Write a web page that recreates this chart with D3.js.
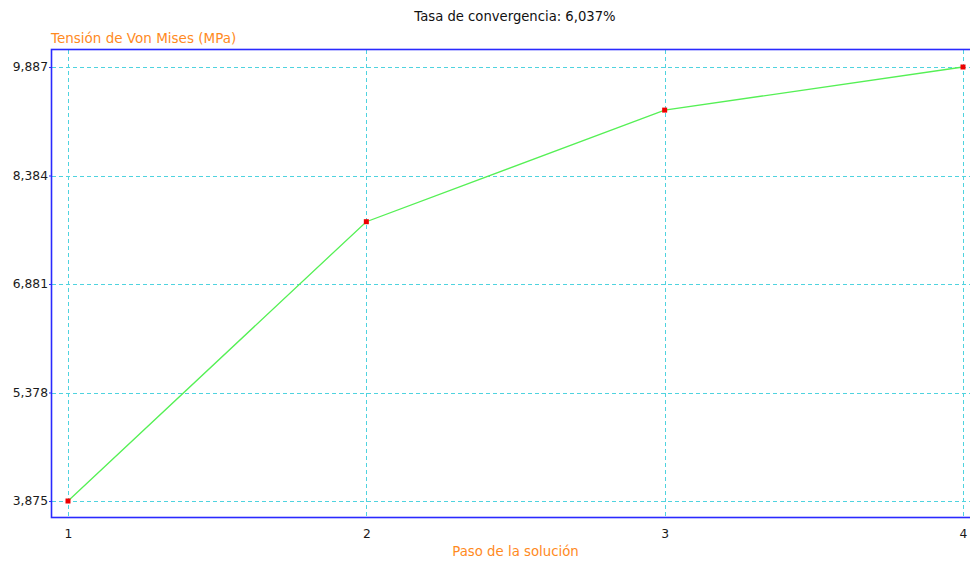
<!DOCTYPE html>
<html><head><meta charset="utf-8">
<script src="https://cdn.jsdelivr.net/npm/d3@7"></script>
<style>body{margin:0;background:#fff;overflow:hidden;} svg{display:block;} text{font-family:"DejaVu Sans",sans-serif;}</style>
</head><body>
<svg id="c" width="970" height="561"></svg>
<script>
const steps = [1, 2, 3, 4];
const stress = [3.875, 7.744, 9.290, 9.887];
const yTicks = [3.875, 5.378, 6.881, 8.384, 9.887];
const yTickLabels = ["3,875", "5,378", "6,881", "8,384", "9,887"];
const title = "Tasa de convergencia: 6,037%";
const yTitle = "Tensión de Von Mises (MPa)";
const xTitle = "Paso de la solución";

const svg = d3.select("#c");
const pLeft = 52, pTop = 50, pBottom = 518, pRight = 1000;
const x = d3.scaleLinear().domain([1, 4]).range([68, 963]);
const y = d3.scaleLinear().domain([3.875, 9.887]).range([501, 67]);

const grid = svg.append("g");
grid.selectAll("line.h").data(yTicks).join("line").attr("class", "h")
  .attr("x1", pLeft).attr("x2", 970).attr("y1", d => Math.round(y(d)) + 0.5).attr("y2", d => Math.round(y(d)) + 0.5)
  .attr("stroke", "#4fd3df").attr("stroke-width", 1).attr("stroke-dasharray", "4,3");
grid.selectAll("line.v").data(steps).join("line").attr("class", "v")
  .attr("y1", pTop).attr("y2", pBottom).attr("x1", d => Math.round(x(d)) + 0.5).attr("x2", d => Math.round(x(d)) + 0.5)
  .attr("stroke", "#4fd3df").attr("stroke-width", 1).attr("stroke-dasharray", "4,3");

svg.append("rect").attr("x", pLeft - 0.5).attr("y", pTop - 0.5).attr("width", pRight - pLeft).attr("height", pBottom - pTop)
  .attr("fill", "none").attr("stroke", "#2a2aff").attr("stroke-width", 1.6);

const yAxis = d3.axisLeft(y).tickValues(yTicks).tickFormat((d, i) => yTickLabels[i]).tickSize(3).tickPadding(1);
const ya = svg.append("g").attr("transform", `translate(${pLeft},0)`).call(yAxis);
ya.select(".domain").remove();
ya.selectAll(".tick line").attr("stroke", "#2a2aff");
ya.selectAll("text").attr("font-size", 12.3).attr("fill", "#1a1a1a").attr("font-family", "DejaVu Sans");

const xAxis = d3.axisBottom(x).tickValues(steps).tickFormat(d3.format("d")).tickSize(0).tickPadding(11);
const xa = svg.append("g").attr("transform", `translate(0,${pBottom})`).call(xAxis);
xa.select(".domain").remove();
xa.selectAll("text").attr("font-size", 12.3).attr("fill", "#1a1a1a").attr("font-family", "DejaVu Sans");

const line = d3.line().x((d, i) => x(steps[i])).y(d => y(d));
svg.append("path").datum(stress).attr("d", line).attr("fill", "none").attr("stroke", "#55f055").attr("stroke-width", 1.3);

svg.selectAll("rect.pt").data(stress).join("rect").attr("class", "pt")
  .attr("x", (d, i) => x(steps[i]) - 2.5).attr("y", d => y(d) - 2.5).attr("width", 5).attr("height", 5).attr("fill", "#ee0000");

svg.append("text").attr("x", 515).attr("y", 21).attr("text-anchor", "middle").attr("font-size", 13.2).attr("fill", "#111").text(title);
svg.append("text").attr("x", 51).attr("y", 43).attr("font-size", 13.5).attr("fill", "#ff8a1e").text(yTitle);
svg.append("text").attr("x", 515.5).attr("y", 556).attr("text-anchor", "middle").attr("font-size", 13.3).attr("fill", "#ff8a1e").text(xTitle);
</script>
</body></html>
